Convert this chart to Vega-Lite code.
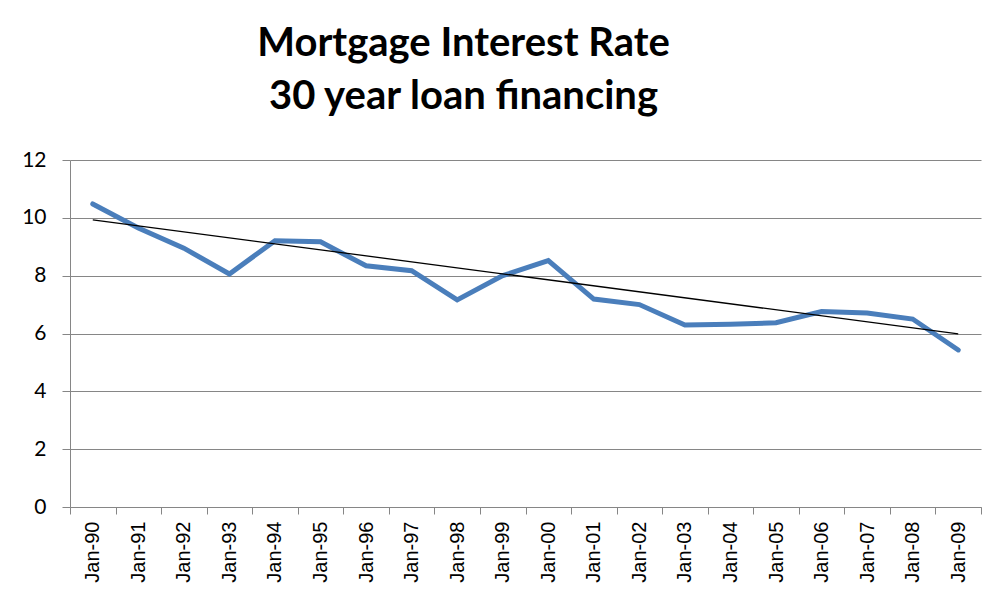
{
  "$schema": "https://vega.github.io/schema/vega-lite/v6.json",
  "width": 911,
  "height": 347,
  "autosize": {"type": "none"},
  "padding": {"left": 70, "top": 160, "right": 16, "bottom": 87},
  "background": "white",
  "config": {"view": {"stroke": null}},
  "title": {
    "text": ["Mortgage Interest Rate", "30 year loan financing"],
    "font": "Lato",
    "fontSize": 40,
    "fontWeight": "bold",
    "color": "black",
    "anchor": "middle",
    "dx": -62,
    "lineHeight": 53,
    "baseline": "bottom",
    "offset": -8
  },
  "datasets": {
    "rates": [
      {"date": "Jan-90", "rate": 10.48},
      {"date": "Jan-91", "rate": 9.65},
      {"date": "Jan-92", "rate": 8.95},
      {"date": "Jan-93", "rate": 8.06},
      {"date": "Jan-94", "rate": 9.21},
      {"date": "Jan-95", "rate": 9.17},
      {"date": "Jan-96", "rate": 8.34},
      {"date": "Jan-97", "rate": 8.17},
      {"date": "Jan-98", "rate": 7.16},
      {"date": "Jan-99", "rate": 8.0},
      {"date": "Jan-00", "rate": 8.52},
      {"date": "Jan-01", "rate": 7.19},
      {"date": "Jan-02", "rate": 7.0},
      {"date": "Jan-03", "rate": 6.29},
      {"date": "Jan-04", "rate": 6.32},
      {"date": "Jan-05", "rate": 6.37},
      {"date": "Jan-06", "rate": 6.76},
      {"date": "Jan-07", "rate": 6.71},
      {"date": "Jan-08", "rate": 6.5},
      {"date": "Jan-09", "rate": 5.43}
    ],
    "trend": [
      {"date": "Jan-90", "rate": 9.93},
      {"date": "Jan-09", "rate": 5.99}
    ]
  },
  "encoding": {
    "x": {
      "field": "date",
      "type": "ordinal",
      "sort": null,
      "bandPosition": 0.5,
      "scale": {
        "type": "band",
        "paddingInner": 0,
        "paddingOuter": 0,
        "domain": ["Jan-90","Jan-91","Jan-92","Jan-93","Jan-94","Jan-95","Jan-96","Jan-97","Jan-98","Jan-99","Jan-00","Jan-01","Jan-02","Jan-03","Jan-04","Jan-05","Jan-06","Jan-07","Jan-08","Jan-09"]
      },
      "axis": {
        "title": null,
        "labelAngle": -90,
        "labelAlign": "right",
        "labelBaseline": "middle",
        "labelFont": "Liberation Sans",
        "labelFontSize": 20,
        "labelColor": "black",
        "labelPadding": 7,
        "tickBand": "extent",
        "tickSize": 7,
        "tickColor": "#868686",
        "domainColor": "#868686",
        "grid": false
      }
    },
    "y": {
      "field": "rate",
      "type": "quantitative",
      "scale": {"domain": [0, 12], "nice": false, "zero": true},
      "axis": {
        "title": null,
        "values": [0, 2, 4, 6, 8, 10, 12],
        "labelFont": "Lato",
        "labelFontSize": 21,
        "labelColor": "black",
        "labelPadding": 16,
        "tickSize": 8,
        "tickColor": "#868686",
        "domainColor": "#868686",
        "gridColor": "#868686",
        "gridOpacity": 1,
        "gridWidth": 1
      }
    }
  },
  "layer": [
    {
      "data": {"name": "rates"},
      "mark": {"type": "line", "color": "#4A7EBB", "strokeWidth": 5, "strokeCap": "round", "strokeJoin": "miter"}
    },
    {
      "data": {"name": "trend"},
      "mark": {"type": "line", "color": "black", "strokeWidth": 1.3}
    }
  ]
}
